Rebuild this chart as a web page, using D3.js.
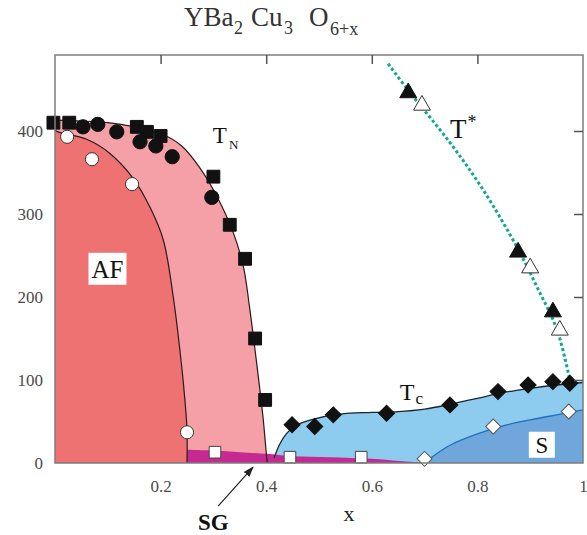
<!DOCTYPE html>
<html><head><meta charset="utf-8">
<script src="https://cdn.jsdelivr.net/npm/d3@7"></script>
<style>body{margin:0;background:#fff}svg{display:block}text{font-family:"Liberation Serif","Times New Roman",serif}</style>
</head><body><svg id="c" width="587" height="535"></svg>
<script>
// ---- data (x = oxygen content, T in K) ----
const xTicks = [0.2, 0.4, 0.6, 0.8, 1];
const xTickLabels = ["0.2", "0.4", "0.6", "0.8", "1"];
const yTicks = [0, 100, 200, 300, 400];
const yInnerTicks = [100, 200, 300, 400];

const tnSquares = [[-0.003,410],[0.027,410],[0.155,405],[0.174,399],[0.2,394],[0.30,345],[0.331,287],[0.36,246],[0.379,150],[0.398,76]];
const tnCircles = [[0.053,405],[0.081,408],[0.117,399],[0.161,387],[0.191,382],[0.222,369],[0.297,320]];
const afCircles = [[0.023,393],[0.07,366],[0.146,336],[0.25,37]];
const sgSquares = [[0.303,13],[0.445,7],[0.58,7]];
const tcDiamonds = [[0.449,46],[0.492,44],[0.527,58],[0.628,60],[0.748,70],[0.839,86],[0.896,94],[0.943,98],[0.975,96]];
const sDiamonds = [[0.70,5],[0.83,44],[0.973,62]];
const tStarFilled = [[0.669,446],[0.877,254],[0.943,182]];
const tStarOpen = [[0.695,431],[0.90,235],[0.956,160]];

const afBoundary = [[0,401],[0.006,399],[0.06,390],[0.104,373],[0.148,343],[0.18,308],[0.205,269],[0.224,200],[0.24,116],[0.246,76],[0.25,40],[0.25,0]];
const tnBoundary = [[0,413],[0.05,412],[0.1,410],[0.15,405],[0.2,397],[0.24,382],[0.275,355],[0.306,322],[0.338,277],[0.357,236],[0.368,190],[0.382,120],[0.394,55],[0.40,13],[0.402,0]];
const sgTop = [[0.25,16],[0.30,15],[0.35,13],[0.40,11],[0.45,8],[0.52,7],[0.60,5],[0.66,2],[0.71,0]];
const tcBoundary = [[0.415,6],[0.425,22],[0.438,35],[0.455,45],[0.49,53],[0.54,59],[0.6,61],[0.65,62],[0.7,65],[0.75,71],[0.8,78],[0.85,85],[0.9,90],[0.95,94],[1.0,97]];
const sBoundary = [[0.70,0],[0.72,10],[0.75,22],[0.8,35],[0.85,45],[0.9,52],[0.95,58],[1.0,64]];
const tStarLine = [[0.631,481],[0.669,449],[0.748,386],[0.811,329],[0.875,260],[0.913,212],[0.951,160],[0.975,100]];

// ---- scales ----
const svg = d3.select("#c");
const x = d3.scaleLinear().domain([0, 1]).range([55, 583]);
const y = d3.scaleLinear().domain([0, 400]).range([463, 131]);
const yTop = y.invert(55);

const line = d3.line().x(d => x(d[0])).y(d => y(d[1])).curve(d3.curveCatmullRom.alpha(0.5));
const px = (a, b) => `${x(a)},${y(b)}`;

// TN (light pink) region
svg.append("path").attr("fill", "#f5a0a6")
  .attr("d", line(tnBoundary) + `L${px(0,0)}Z`);
// AF (darker) region
svg.append("path").attr("fill", "#ef7272")
  .attr("d", line(afBoundary) + `L${px(0,0)}Z`);
// Tc dome
svg.append("path").attr("fill", "#8dcbef")
  .attr("d", line(tcBoundary) + `L${px(1,0)}L${px(0.415,0)}Z`);
// S region
svg.append("path").attr("fill", "#6fa6dc")
  .attr("d", line(sBoundary) + `L${px(1,0)}Z`);
// SG band
svg.append("path").attr("fill", "#c62a92")
  .attr("d", line(sgTop) + `L${px(0.25,0)}Z`);

// boundary lines
svg.append("path").attr("fill", "none").attr("stroke", "#2a1a1a").attr("stroke-width", 1.2).attr("d", line(afBoundary));
svg.append("path").attr("fill", "none").attr("stroke", "#2a1a1a").attr("stroke-width", 1.2).attr("d", line(tnBoundary));
svg.append("path").attr("fill", "none").attr("stroke", "#1a2530").attr("stroke-width", 1.3).attr("d", line(tcBoundary));
svg.append("path").attr("fill", "none").attr("stroke", "#1f6fbf").attr("stroke-width", 1.3).attr("d", line(sBoundary));
// T* dotted line
svg.append("path").attr("fill", "none").attr("stroke", "#12a88e").attr("stroke-width", 3)
  .attr("stroke-dasharray", "3,2.5").attr("d", line(tStarLine));

// ---- markers ----
function marks(data, type, size, fill, stroke, rot) {
  svg.append("g").selectAll("path").data(data).join("path")
    .attr("d", d3.symbol().type(type).size(size))
    .attr("transform", d => `translate(${x(d[0])},${y(d[1])})` + (rot ? ` rotate(${rot})` : ""))
    .attr("fill", fill).attr("stroke", stroke).attr("stroke-width", 1);
}
marks(afCircles, d3.symbolCircle, 135, "#fff", "#333");
marks(tnSquares, d3.symbolSquare, 165, "#111", "#111");
marks(tnCircles, d3.symbolCircle, 160, "#111", "#111");
marks(sgSquares, d3.symbolSquare, 135, "#fff", "#444");
marks(tcDiamonds, d3.symbolSquare, 128, "#111", "#111", 45);
marks(sDiamonds, d3.symbolSquare, 112, "#fff", "#555", 45);
marks(tStarFilled, d3.symbolTriangle, 125, "#111", "#111");
marks(tStarOpen, d3.symbolTriangle, 125, "#fff", "#333");

// ---- frame and axes ----
svg.append("rect").attr("x", x(0)).attr("y", y(yTop)).attr("width", x(1) - x(0)).attr("height", y(0) - y(yTop))
  .attr("fill", "none").attr("stroke", "#7d7d7d").attr("stroke-width", 1.5);

const topAxis = svg.append("g").attr("transform", `translate(0,${y(yTop)})`)
  .call(d3.axisTop(x).tickValues(xTicks.slice(0, 4)).tickSize(-9).tickFormat(""));
const rightAxis = svg.append("g").attr("transform", `translate(${x(1)},0)`)
  .call(d3.axisRight(y).tickValues(yInnerTicks).tickSize(-9).tickFormat(""));
[topAxis, rightAxis].forEach(g => { g.select(".domain").remove(); g.selectAll("line").attr("stroke", "#555").attr("stroke-width", 1.5); });

const bottomAxis = svg.append("g").attr("transform", `translate(0,${y(0)})`)
  .call(d3.axisBottom(x).tickValues(xTicks).tickSize(0).tickPadding(17).tickFormat((d, i) => xTickLabels[i]));
const leftAxis = svg.append("g").attr("transform", `translate(${x(0)},0)`)
  .call(d3.axisLeft(y).tickValues(yTicks).tickSize(0).tickPadding(12).tickFormat(d3.format("d")));
[bottomAxis, leftAxis].forEach(g => {
  g.select(".domain").remove();
  g.selectAll("text").attr("font-family", "Liberation Serif, serif").attr("font-size", 17).attr("fill", "#4a4a4a");
});

// ---- labels ----
const title = svg.append("text").attr("y", 26).attr("font-size", 27).attr("fill", "#333");
title.append("tspan").attr("x", 184).text("YBa");
title.append("tspan").attr("x", 234).attr("y", 34).attr("font-size", 18).text("2");
title.append("tspan").attr("x", 251).attr("y", 26).text("Cu");
title.append("tspan").attr("x", 284).attr("y", 34).attr("font-size", 18).text("3");
title.append("tspan").attr("x", 309).attr("y", 26).text("O");
title.append("tspan").attr("x", 330).attr("y", 35).attr("font-size", 18).text("6+x");

// AF label with white box
svg.append("rect").attr("x", x(0.0994) - 19).attr("y", y(234) - 16).attr("width", 38).attr("height", 32).attr("fill", "#fff");
svg.append("text").attr("x", x(0.0994)).attr("y", y(234) + 9).attr("text-anchor", "middle").attr("font-size", 25).attr("fill", "#111").text("AF");

// S label with white box
svg.append("rect").attr("x", x(0.922) - 13).attr("y", y(22) - 13).attr("width", 26).attr("height", 26).attr("fill", "#fff");
svg.append("text").attr("x", x(0.922)).attr("y", y(22) + 8).attr("text-anchor", "middle").attr("font-size", 23).attr("fill", "#111").text("S");

// T_N
const tn = svg.append("text").attr("x", x(0.299)).attr("y", y(385)).attr("font-size", 23).attr("fill", "#111");
tn.append("tspan").text("T");
tn.append("tspan").attr("dx", 2).attr("dy", 6).attr("font-size", 13).text("N");
// T*
const ts = svg.append("text").attr("x", x(0.748)).attr("y", y(392)).attr("font-size", 27).attr("fill", "#111");
ts.append("tspan").text("T");
ts.append("tspan").attr("dx", 1).attr("dy", -10).attr("font-size", 18).text("*");
// Tc
const tc = svg.append("text").attr("x", x(0.653)).attr("y", y(76)).attr("font-size", 24).attr("fill", "#111");
tc.append("tspan").text("T");
tc.append("tspan").attr("dx", 1).attr("dy", 4).attr("font-size", 17).text("c");

// x axis label
svg.append("text").attr("x", 349).attr("y", 521).attr("text-anchor", "middle").attr("font-size", 22).attr("fill", "#222").text("x");

// SG arrow + label
svg.append("defs").append("marker").attr("id", "ah").attr("viewBox", "0 0 10 10").attr("refX", 9).attr("refY", 5)
  .attr("markerWidth", 9).attr("markerHeight", 9).attr("orient", "auto-start-reverse")
  .append("path").attr("d", "M0,1.5L10,5L0,8.5Z").attr("fill", "#222");
svg.append("line").attr("x1", x(0.309)).attr("y1", y(-52)).attr("x2", x(0.375)).attr("y2", y(-5))
  .attr("stroke", "#222").attr("stroke-width", 1.2).attr("marker-end", "url(#ah)");
svg.append("text").attr("x", x(0.30)).attr("y", 530).attr("text-anchor", "middle").attr("font-size", 23)
  .attr("font-weight", "bold").attr("fill", "#111").text("SG");
</script></body></html>
